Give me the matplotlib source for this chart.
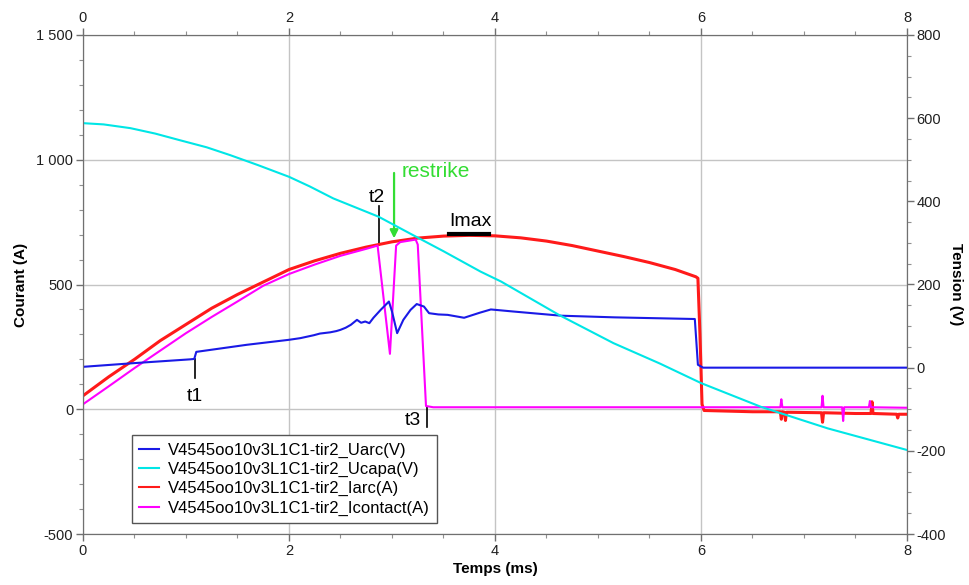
import matplotlib
matplotlib.use("Agg")
import matplotlib.pyplot as plt  # noqa: E402
from matplotlib.ticker import MultipleLocator, FixedLocator  # noqa: E402

plt.rcParams["font.family"] = ["Liberation Sans", "DejaVu Sans"]
plt.rcParams["axes.unicode_minus"] = False

# --- data (time in ms) ---
uarc_t = [0, 0.5, 1.04, 1.08, 1.10, 1.59, 2.0, 2.11, 2.24, 2.3, 2.4, 2.46, 2.5, 2.55,
          2.6, 2.66, 2.70, 2.74, 2.78, 2.82, 2.89, 2.97, 3.0, 3.05, 3.11, 3.18, 3.24,
          3.31, 3.36, 3.45, 3.54, 3.7, 3.85, 3.96, 4.18, 4.64, 5.16, 5.94, 5.97, 6.02, 8.0]
uarc_v = [2, 11, 20, 21, 38, 55, 67, 71, 78, 82, 85, 88, 91, 96,
          103, 115, 108, 111, 107, 120, 139, 159, 135, 83, 115, 139, 153,
          147, 131, 128, 127, 120, 132, 140, 135, 125, 121, 117, 7, 0, 0]

ucapa_t = [0, 0.2, 0.46, 0.7, 0.94, 1.2, 1.43, 1.7, 2.0, 2.2, 2.43, 2.65, 2.87, 3.21,
           3.5, 3.86, 4.06, 4.62, 5.15, 5.6, 6.0, 6.58, 7.23, 8.0]
ucapa_v = [588, 585, 576, 563, 547, 530, 511, 487, 459, 436, 407, 385, 363, 318,
           280, 231, 207, 127, 59, 10, -37, -94, -146, -198]

iarc_t = [0, 0.25, 0.5, 0.75, 1.0, 1.25, 1.5, 1.75, 2.0, 2.25, 2.5, 2.75, 3.0,
          3.25, 3.5, 3.75, 4.0, 4.25, 4.5, 4.75, 5.0, 5.25, 5.5, 5.75, 5.95, 5.97,
          5.99, 6.01, 6.03, 6.5, 6.77, 6.78, 6.79, 6.81, 6.82, 6.83, 7.17, 7.18,
          7.19, 7.5, 7.65, 7.66, 7.67, 7.90, 7.91, 7.92, 8.0]
iarc_a = [54, 130, 200, 275, 340, 405, 460, 510, 560, 595, 625, 650, 671,
          686, 694, 697, 695, 687, 674, 656, 634, 612, 588, 560, 531, 525,
          300, 20, -5, -10, -10, -40, -10, -12, -45, -12, -14, -52,
          -14, -17, -17, 30, -17, -20, -35, -20, -20]

icontact_t = [0, 0.25, 0.5, 0.75, 1.0, 1.25, 1.5, 1.75, 2.0, 2.25, 2.5, 2.75, 2.86,
              2.98, 3.04, 3.08, 3.23, 3.25, 3.33, 3.4, 6.77, 6.78, 6.79, 7.17, 7.18,
              7.19, 7.37, 7.38, 7.39, 7.63, 7.64, 7.65, 8.0]
icontact_a = [20, 92, 165, 235, 305, 370, 432, 495, 542, 580, 615, 643, 656,
              222, 656, 670, 680, 660, 13, 8, 8, 40, 8, 8, 54,
              8, 8, -47, 8, 8, 33, 8, 6]

# annotation anchors (time ms, current A)
t1, t2, t3, t_restrike = 1.09, 2.87, 3.34, 3.02
imax_span = (3.55, 3.94)
imax_level = 701

fig = plt.figure(figsize=(9.7, 5.85), dpi=100)
ax = fig.add_axes([83 / 970, 51 / 585, 824 / 970, 499 / 585])
ax2 = ax.twinx()

ax.set_xlim(0, 8)
ax.set_ylim(-500, 1500)
ax2.set_ylim(-400, 800)

l_iarc, = ax.plot(iarc_t, iarc_a, color="#ff1a1a", lw=2.2, zorder=3)
l_icon, = ax.plot(icontact_t, icontact_a, color="#ff00ff", lw=1.5, zorder=4)
l_uarc, = ax2.plot(uarc_t, uarc_v, color="#1a1ae6", lw=1.5)
l_ucapa, = ax2.plot(ucapa_t, ucapa_v, color="#00e6e6", lw=1.5)

# ticks
ax.xaxis.set_major_locator(MultipleLocator(2))
ax.xaxis.set_minor_locator(MultipleLocator(0.5))
ax.yaxis.set_major_locator(FixedLocator([-500, 0, 500, 1000, 1500]))
ax.set_yticklabels(["-500", "0", "500", "1 000", "1 500"])
ax.yaxis.set_minor_locator(MultipleLocator(100))
ax2.yaxis.set_major_locator(MultipleLocator(200))
ax2.yaxis.set_minor_locator(MultipleLocator(50))

for a in (ax, ax2):
    a.tick_params(which="major", direction="out", length=5, width=1,
                  color="#707070", labelsize=10.5, labelcolor="#202020", pad=2)
    a.tick_params(which="minor", direction="out", length=3, width=0.8, color="#909090")
    for s in a.spines.values():
        s.set_color("#707070")
ax.tick_params(axis="x", which="both", top=True, labeltop=True)

ax.grid(True, which="major", color="#c4c4c4", lw=1)
ax.set_axisbelow(True)

ax.set_xlabel("Temps (ms)", fontsize=11, fontweight="bold", labelpad=3)
ax.set_ylabel("Courant (A)", fontsize=11, fontweight="bold", labelpad=6)
ax2.set_ylabel("Tension (V)", fontsize=11, fontweight="bold", rotation=270, labelpad=12)

# annotations
ax.plot([t1, t1], [125, 201], color="black", lw=1.2)
ax.text(t1, 52, "t1", ha="center", va="center", fontsize=14)
ax.plot([t2, t2], [658, 814], color="black", lw=1.2)
ax.text(t2 - 0.02, 849, "t2", ha="center", va="center", fontsize=14)
ax.plot([t3, t3], [8, -73], color="black", lw=1.2)
ax.text(t3 - 0.14, -44, "t3", ha="center", va="center", fontsize=14)
ax.plot(list(imax_span), [imax_level, imax_level], color="black", lw=3, zorder=5)
ax.text(sum(imax_span) / 2 + 0.02, imax_level + 16, "Imax", ha="center", va="bottom", fontsize=14)
ax.annotate("", xy=(t_restrike, 685), xytext=(t_restrike, 947),
            arrowprops=dict(arrowstyle="-|>", color="#33dd33", lw=1.6,
                            mutation_scale=12, shrinkA=0, shrinkB=0))
ax.text(t_restrike + 0.07, 951, "restrike", color="#33dd33", ha="left", va="center", fontsize=15)

leg = ax2.legend([l_uarc, l_ucapa, l_iarc, l_icon],
                 ["V4545oo10v3L1C1-tir2_Uarc(V)", "V4545oo10v3L1C1-tir2_Ucapa(V)",
                  "V4545oo10v3L1C1-tir2_Iarc(A)", "V4545oo10v3L1C1-tir2_Icontact(A)"],
                 loc="upper left", bbox_to_anchor=((132 - 83) / 824, (534 - 435) / 499),
                 borderaxespad=0, fontsize=12, fancybox=False, framealpha=1,
                 edgecolor="#555555", handlelength=1.2, handletextpad=0.5,
                 labelspacing=0.25, borderpad=0.45)
leg.get_frame().set_linewidth(1)
for h in leg.get_lines():
    h.set_linewidth(1.5)

fig.savefig("out.png", dpi=100)
